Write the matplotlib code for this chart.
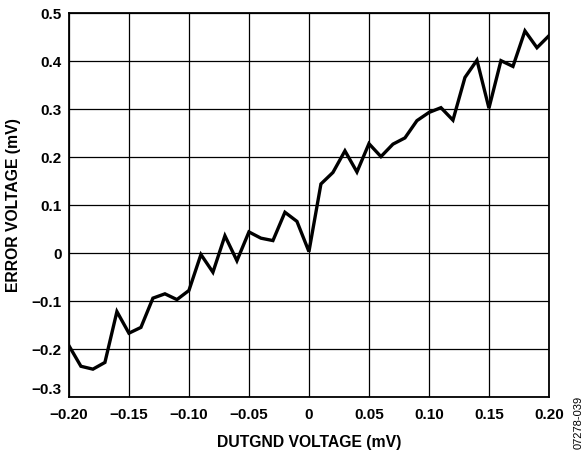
import numpy as np
import matplotlib
matplotlib.use('Agg')
import matplotlib.pyplot as plt
import matplotlib.transforms as mtransforms

plt.rcParams['font.family'] = ['Liberation Sans', 'DejaVu Sans']
plt.rcParams['font.weight'] = 'bold'

# DUTGND voltage (mV)
dutgnd = [-0.20, -0.19, -0.18, -0.17, -0.16, -0.15, -0.14, -0.13, -0.12, -0.11,
          -0.10, -0.09, -0.08, -0.07, -0.06, -0.05, -0.04, -0.03, -0.02, -0.01,
          0.00, 0.01, 0.02, 0.03, 0.04, 0.05, 0.06, 0.07, 0.08, 0.09,
          0.10, 0.11, 0.12, 0.13, 0.14, 0.15, 0.16, 0.17, 0.18, 0.19, 0.20]
# error voltage (mV)
error = [-0.193, -0.236, -0.242, -0.228, -0.122, -0.167, -0.155, -0.094, -0.085, -0.097,
         -0.078, -0.003, -0.040, 0.036, -0.016, 0.044, 0.031, 0.026, 0.085, 0.066,
         0.003, 0.144, 0.168, 0.213, 0.169, 0.228, 0.201, 0.227, 0.240, 0.276,
         0.293, 0.303, 0.277, 0.366, 0.402, 0.302, 0.401, 0.389, 0.463, 0.428, 0.453]

xticks = [-0.20, -0.15, -0.10, -0.05, 0, 0.05, 0.10, 0.15, 0.20]
xlabels = ['\u22120.20', '\u22120.15', '\u22120.10', '\u22120.05', '0', '0.05', '0.10', '0.15', '0.20']
yticks = [-0.3, -0.2, -0.1, 0, 0.1, 0.2, 0.3, 0.4, 0.5]
ylabels = ['\u22120.3', '\u22120.2', '\u22120.1', '0', '0.1', '0.2', '0.3', '0.4', '0.5']

fig = plt.figure(figsize=(5.84, 4.54), dpi=100)
ax = fig.add_axes([0.118, 0.1256, 0.822, 0.8454])

ax.plot(dutgnd, error, color='black', lw=2.4, solid_joinstyle='miter', zorder=3)

ax.set_xlim(-0.20, 0.20)
ax.set_ylim(-0.3, 0.5)
ax.set_xticks(xticks)
ax.set_xticklabels(xlabels)
ax.set_yticks(yticks)
ax.set_yticklabels(ylabels)
ax.tick_params(length=0, labelsize=11)
ax.tick_params(axis='x', pad=8)
ax.tick_params(axis='y', pad=5)
ax.grid(True, color='black', lw=0.9)
for s in ax.spines.values():
    s.set_linewidth(1.3)

# bottom y label sits a bit higher so it clears the -0.20 label
lab = ax.get_yticklabels()[0]
lab.set_transform(lab.get_transform() + mtransforms.ScaledTranslation(0, 8 / 100, fig.dpi_scale_trans))

ax.set_xlabel('DUTGND VOLTAGE (mV)', fontsize=11.3, fontweight='bold')
ax.set_ylabel('ERROR VOLTAGE (mV)', fontsize=11.3, fontweight='bold')
ax.xaxis.set_label_coords(0.5, -0.098)
ax.yaxis.set_label_coords(-0.10, 0.5)

fig.text(0.991, 0.07, '07278-039', rotation=90, fontsize=8, fontweight='normal',
         ha='center', va='center')

fig.savefig('out.png', dpi=100)
